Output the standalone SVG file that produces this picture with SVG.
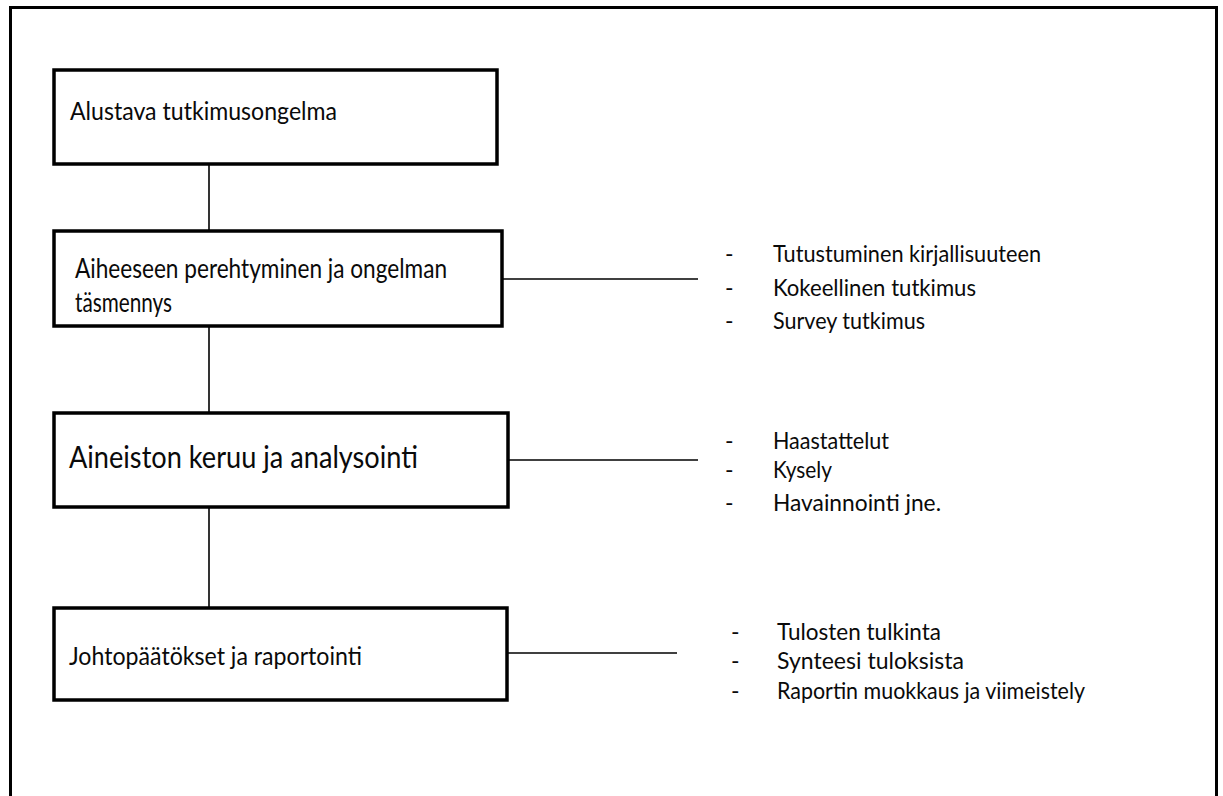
<svg xmlns="http://www.w3.org/2000/svg" width="1223" height="796" viewBox="0 0 1223 796">
<style>
.frame{fill:none;stroke:#000;stroke-width:3}
.box{fill:#fff;stroke:#000;stroke-width:3.5}
.conn{stroke:#000;stroke-width:1.6;fill:none}
.t{font-family:Lato,"Open Sans","Liberation Sans",sans-serif;fill:#0a0a0a}
.l{font-family:Lato,"Open Sans","Liberation Sans",sans-serif;fill:#0a0a0a;font-size:23px}
</style>
<rect width="1223" height="796" fill="#fff"/>
<path class="frame" d="M10.5,800 V7.5 H1216.5 V800"/>
<g id="connectors">
<line class="conn" x1="209" y1="165" x2="209" y2="231"/>
<line class="conn" x1="209" y1="326" x2="209" y2="412"/>
<line class="conn" x1="209" y1="508" x2="209" y2="607"/>
<line class="conn" x1="502" y1="279" x2="698" y2="279"/>
<line class="conn" x1="508" y1="460" x2="698" y2="460"/>
<line class="conn" x1="507" y1="653" x2="677" y2="653"/>
</g>
<g id="n1">
<rect class="box" x="54" y="70" width="443" height="94"/>
<text class="t" x="70" y="120" font-size="25" textLength="267" lengthAdjust="spacingAndGlyphs">Alustava tutkimusongelma</text>
</g>
<g id="n2">
<rect class="box" x="54" y="231" width="448" height="95"/>
<text class="t" x="75" y="278" font-size="26" textLength="372" lengthAdjust="spacingAndGlyphs">Aiheeseen perehtyminen ja ongelman</text>
<text class="t" x="75" y="312" font-size="26" textLength="97" lengthAdjust="spacingAndGlyphs">täsmennys</text>
</g>
<g id="n3">
<rect class="box" x="54" y="413" width="454" height="94"/>
<text class="t" x="69" y="468" font-size="30" textLength="349" lengthAdjust="spacingAndGlyphs">Aineiston keruu ja analysointi</text>
</g>
<g id="n4">
<rect class="box" x="54" y="608" width="453" height="92"/>
<text class="t" x="69" y="665" font-size="25" textLength="293" lengthAdjust="spacingAndGlyphs">Johtopäätökset ja raportointi</text>
</g>
<g id="list1">
<text class="l" x="725" y="262">-</text>
<text class="l" x="773" y="262" textLength="268" lengthAdjust="spacingAndGlyphs">Tutustuminen kirjallisuuteen</text>
<text class="l" x="725" y="296">-</text>
<text class="l" x="773" y="296" textLength="203" lengthAdjust="spacingAndGlyphs">Kokeellinen tutkimus</text>
<text class="l" x="725" y="329">-</text>
<text class="l" x="773" y="329" textLength="152" lengthAdjust="spacingAndGlyphs">Survey tutkimus</text>
</g>
<g id="list2">
<text class="l" x="725" y="449">-</text>
<text class="l" x="773" y="449" textLength="116" lengthAdjust="spacingAndGlyphs">Haastattelut</text>
<text class="l" x="725" y="478">-</text>
<text class="l" x="773" y="478" textLength="59" lengthAdjust="spacingAndGlyphs">Kysely</text>
<text class="l" x="725" y="511">-</text>
<text class="l" x="773" y="511" textLength="168" lengthAdjust="spacingAndGlyphs">Havainnointi jne.</text>
</g>
<g id="list3">
<text class="l" x="731" y="640">-</text>
<text class="l" x="777" y="640" textLength="164" lengthAdjust="spacingAndGlyphs">Tulosten tulkinta</text>
<text class="l" x="731" y="669">-</text>
<text class="l" x="777" y="669" textLength="187" lengthAdjust="spacingAndGlyphs">Synteesi tuloksista</text>
<text class="l" x="731" y="699">-</text>
<text class="l" x="777" y="699" textLength="308" lengthAdjust="spacingAndGlyphs">Raportin muokkaus ja viimeistely</text>
</g>
</svg>
